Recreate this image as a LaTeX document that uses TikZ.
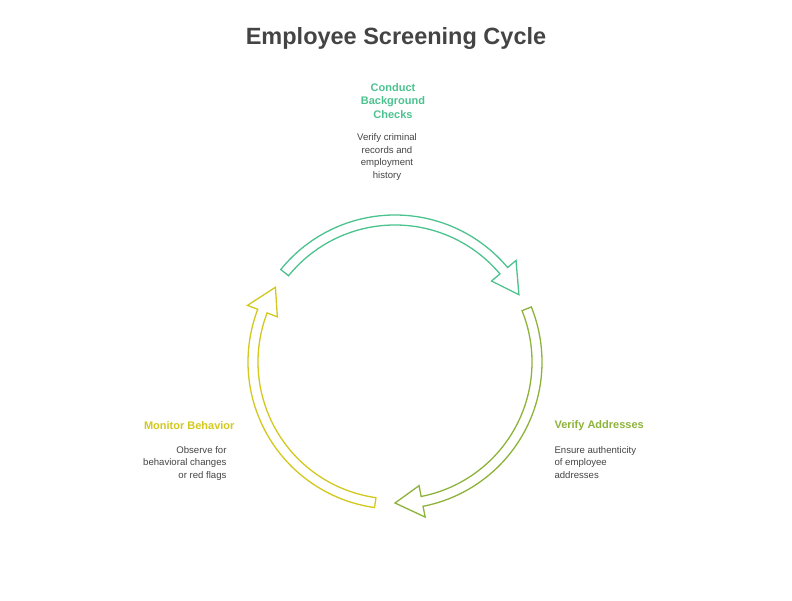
\documentclass[tikz,border=0pt]{standalone}
\usepackage{fontspec}
\setmainfont{Liberation Sans}
\definecolor{cg}{HTML}{4CC28F}
\definecolor{cl}{HTML}{8DB33A}
\definecolor{cy}{HTML}{D2C81E}
\definecolor{tx}{HTML}{444444}
\tikzset{
  band/.style={draw=#1, line width=1.3pt, fill=white, line join=miter},
  head/.style={font=\bfseries\fontsize{11}{13.5}\selectfont, text=#1, align=center},
  desc/.style={font=\fontsize{9.6}{12.5}\selectfont, text=tx}
}
\begin{document}
\begin{tikzpicture}[x=1pt,y=1pt]
\useasboundingbox (0,0) rectangle (792,601);
\node[font=\bfseries\fontsize{23.5}{27}\selectfont, text=tx] (title) at (396,563) {Employee Screening Cycle};
\begin{scope}[shift={(395,239)}]
\draw[band=cg] (141:147) arc(141:40:147) -- (40:158) -- (28.5:141) -- (40:126) -- (40:137) arc(40:141:137) -- cycle;
\draw[band=cl] (22:147) arc(22:-79:147) -- (-79:158) -- (-90:141) -- (-79:126) -- (-79:137) arc(-79:22:137) -- cycle;
\draw[band=cy] (-98:147) arc(-98:-201:147) -- (-201:158) -- (-212:141) -- (-201:126) -- (-201:137) arc(-201:-98:137) -- cycle;
\end{scope}
\node[head=cg] (h1) at (393,500) {Conduct\\Background\\Checks};
\node[desc, align=center] (d1) at (387,444) {Verify criminal\\records and\\employment\\history};
\node[head=cl, anchor=west] (h2) at (551,175) {Verify Addresses};
\node[desc, align=left, anchor=north west] (d2) at (551,158) {Ensure authenticity\\of employee\\addresses};
\node[head=cy, anchor=east] (h3) at (238,175) {Monitor Behavior};
\node[desc, align=right, anchor=north east] (d3) at (230,158) {Observe for\\behavioral changes\\or red flags};
\end{tikzpicture}
\end{document}
